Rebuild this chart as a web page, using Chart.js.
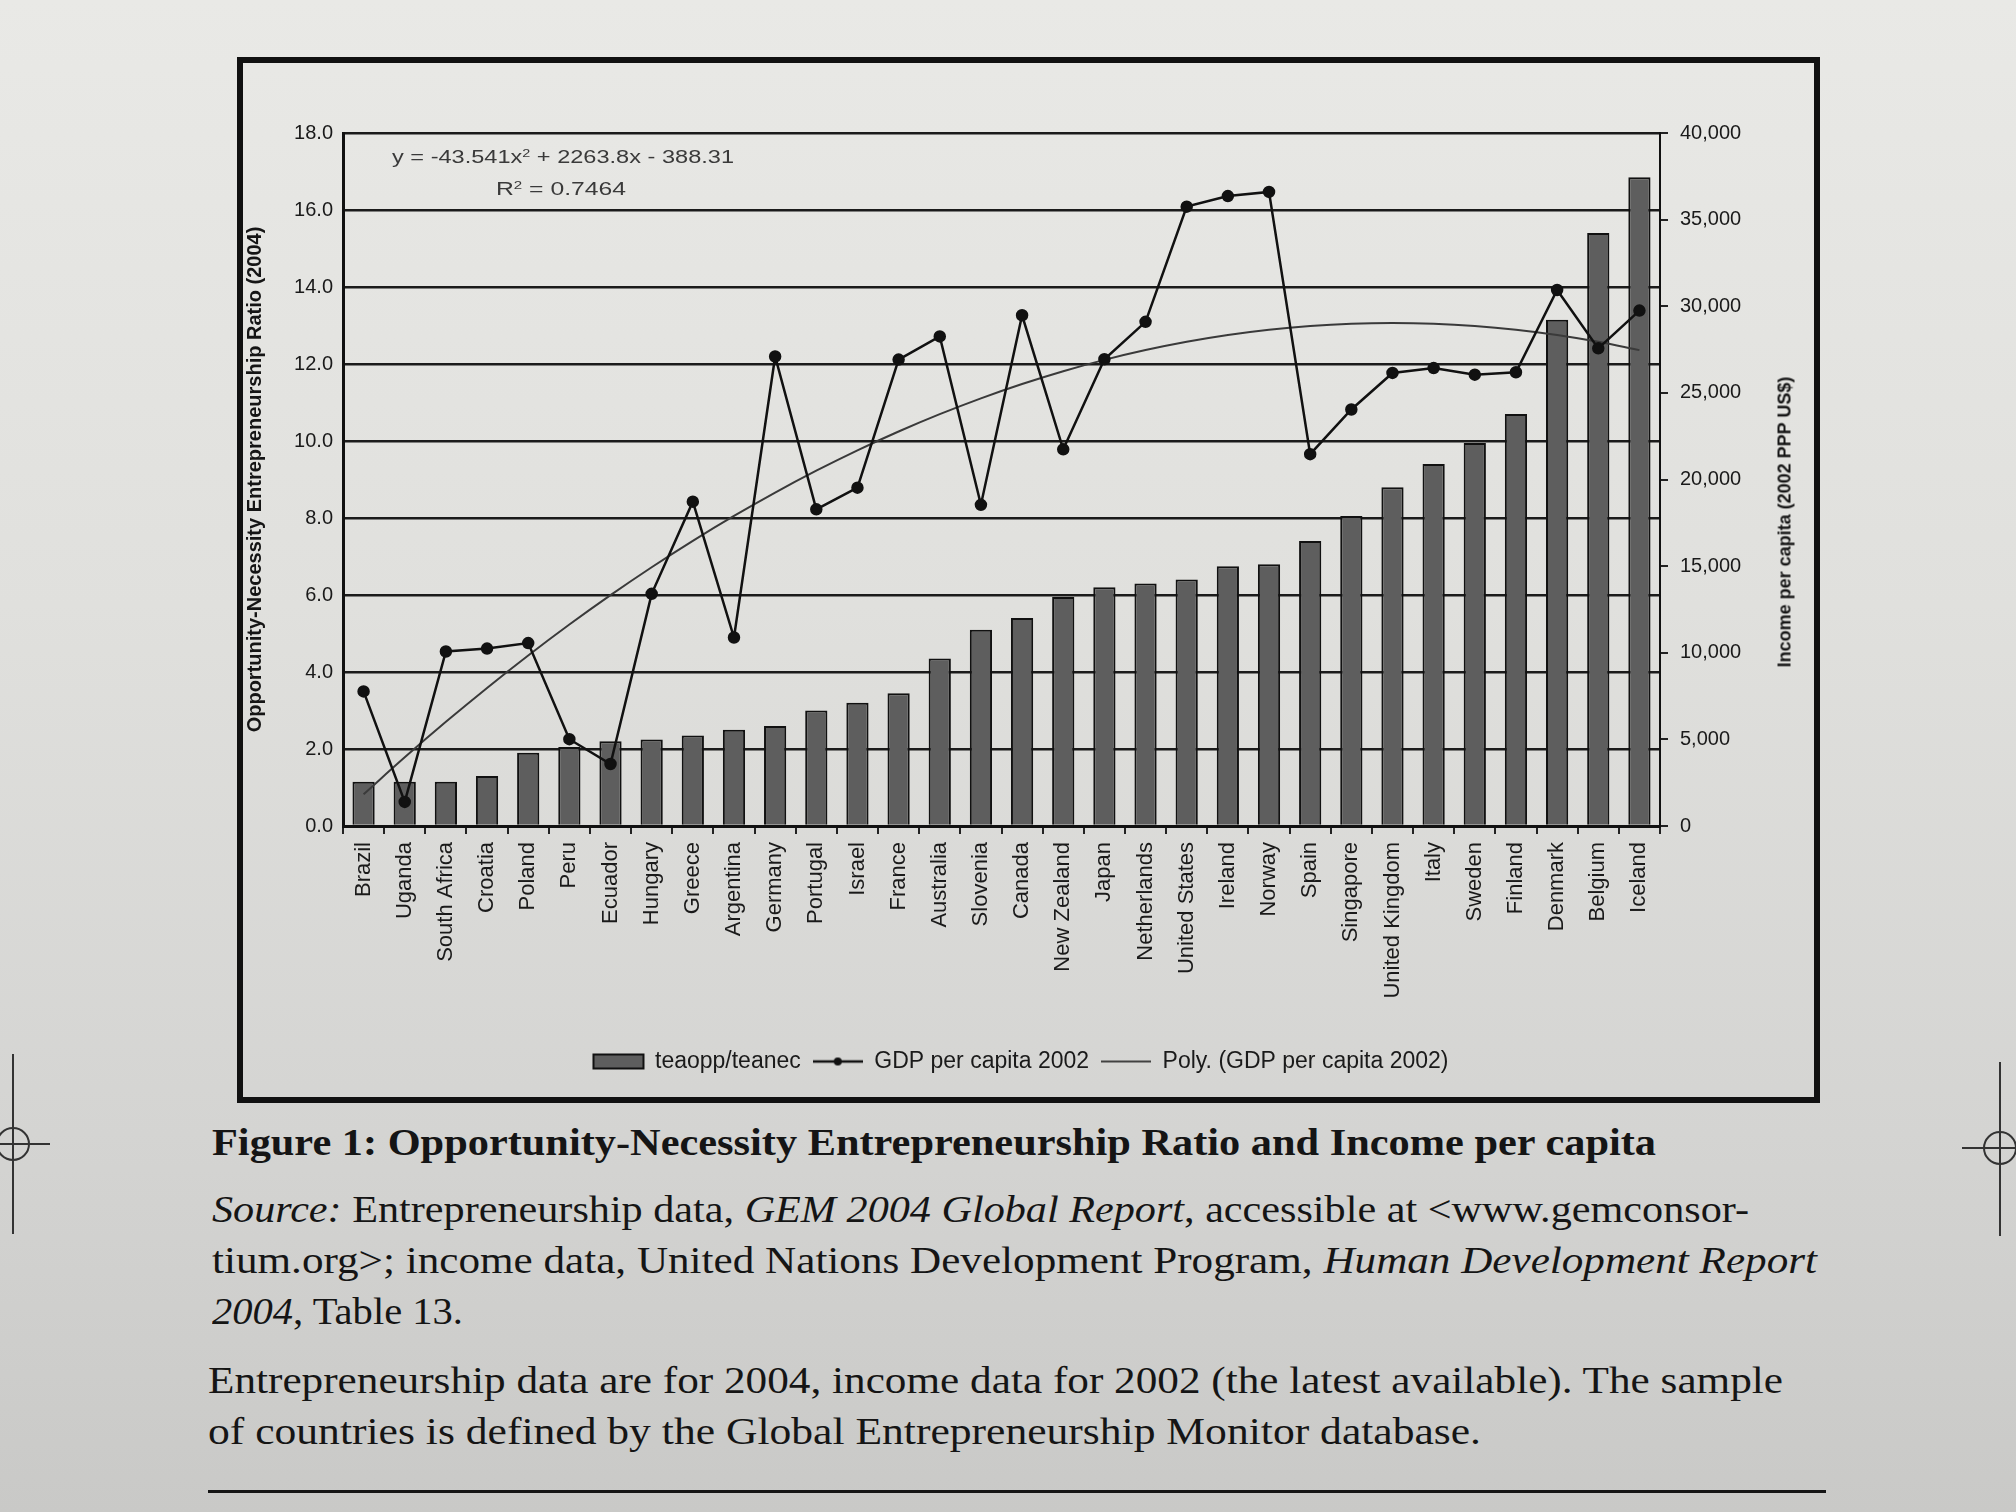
<!DOCTYPE html>
<html><head><meta charset="utf-8">
<script src="https://cdn.jsdelivr.net/npm/chart.js@4.4.1/dist/chart.umd.min.js"></script>
<style>
html,body{margin:0;padding:0;}
body{width:2016px;height:1512px;position:relative;overflow:hidden;
background:linear-gradient(180deg,#e9e9e6 0%,#e0e0dd 40%,#d4d4d2 75%,#c9c9c7 100%);
font-family:"Liberation Sans",Arial,sans-serif;}
#frame{position:absolute;left:237px;top:57px;width:1571px;height:1034px;border:6px solid #111;}
#wrap{position:absolute;left:243px;top:63px;width:1571px;height:1034px;}
.t{position:absolute;white-space:nowrap;transform-origin:0 50%;line-height:1;}
.cap{font-family:"Liberation Serif","DejaVu Serif",serif;color:#151515;font-size:37px;}
.eq{font-size:18px;color:#3a3a3a;}
#rtitle{position:absolute;left:1785px;top:522px;transform:translate(-50%,-50%) rotate(-90deg);white-space:nowrap;font-weight:bold;font-size:18px;color:#151515;}
#rule{position:absolute;left:208px;top:1490px;width:1618px;height:3px;background:#151515;}
svg{position:absolute;left:0;top:0;}
</style></head>
<body>
<svg width="2016" height="1512">
  <g stroke="#333" stroke-width="2" fill="none">
    <circle cx="13" cy="1144" r="16"/><line x1="13" y1="1054" x2="13" y2="1234"/><line x1="0" y1="1144" x2="50" y2="1144"/>
    <circle cx="2000" cy="1148" r="16"/><line x1="2000" y1="1062" x2="2000" y2="1236"/><line x1="1962" y1="1148" x2="2016" y2="1148"/>
  </g>
</svg>
<div id="frame"></div>
<div id="wrap"><canvas id="c" width="1571" height="1034"></canvas></div>
<div class="t eq" data-x="392" data-cy="157" data-w="342">y = -43.541x<sup style="font-size:11px;vertical-align:6px">2</sup> + 2263.8x - 388.31</div>
<div class="t eq" data-x="496" data-cy="189" data-w="130">R<sup style="font-size:11px;vertical-align:6px">2</sup> = 0.7464</div>
<div id="rtitle">Income per capita (2002 PPP US$)</div>
<div class="t cap" style="font-weight:bold" data-x="212" data-cy="1142" data-w="1444">Figure 1: Opportunity-Necessity Entrepreneurship Ratio and Income per capita</div>
<div class="t cap" data-x="212" data-cy="1209" data-w="1537"><i>Source:</i> Entrepreneurship data, <i>GEM 2004 Global Report</i>, accessible at &lt;www.gemconsor-</div>
<div class="t cap" data-x="212" data-cy="1260" data-w="1605">tium.org&gt;; income data, United Nations Development Program, <i>Human Development Report</i></div>
<div class="t cap" data-x="212" data-cy="1311" data-w="251"><i>2004</i>, Table 13.</div>
<div class="t cap" data-x="208" data-cy="1380" data-w="1575">Entrepreneurship data are for 2004, income data for 2002 (the latest available). The sample</div>
<div class="t cap" data-x="208" data-cy="1431" data-w="1273">of countries is defined by the Global Entrepreneurship Monitor database.</div>
<div id="rule"></div>
<script>
const countries = ["Brazil","Uganda","South Africa","Croatia","Poland","Peru","Ecuador","Hungary","Greece","Argentina","Germany","Portugal","Israel","France","Australia","Slovenia","Canada","New Zealand","Japan","Netherlands","United States","Ireland","Norway","Spain","Singapore","United Kingdom","Italy","Sweden","Finland","Denmark","Belgium","Iceland"];
const ratio = [1.15,1.15,1.15,1.3,1.9,2.05,2.2,2.25,2.35,2.5,2.6,3.0,3.2,3.45,4.35,5.1,5.4,5.95,6.2,6.3,6.4,6.75,6.8,7.4,8.05,8.8,9.4,9.95,10.7,13.15,15.4,16.85];
const gdp = [7770,1390,10070,10240,10560,5010,3580,13400,18720,10880,27100,18280,19530,26920,28260,18540,29480,21740,26940,29100,35750,36360,36600,21460,24040,26150,26430,26050,26190,30940,27570,29750];
const trend = [1832,3965,6011,7970,9842,11627,13325,14936,16459,17896,19245,20507,21683,22771,23772,24686,25513,26253,26906,27471,27950,28342,28646,28863,28994,29037,28993,28862,28644,28339,27945,27467];
const ratioTicks = {min:0, max:18, step:2};
const incomeTicks = {min:0, max:40000, step:5000};

document.querySelectorAll('.t').forEach(el=>{
  const r = el.getBoundingClientRect();
  el.style.left = el.dataset.x + 'px';
  el.style.top = (+el.dataset.cy - r.height/2) + 'px';
  el.style.transform = 'scaleX(' + (+el.dataset.w / r.width) + ')';
});

function legendIcon(withDot, lw){
  const c = document.createElement('canvas'); c.width = 50; c.height = 14;
  const g = c.getContext('2d'); g.strokeStyle = '#111'; g.lineWidth = lw;
  g.beginPath(); g.moveTo(0,7); g.lineTo(50,7); g.stroke();
  if (withDot){ g.fillStyle='#111'; g.beginPath(); g.arc(25,7,4,0,Math.PI*2); g.fill(); }
  return c;
}
const icons = [null, legendIcon(true,2.5), legendIcon(false,1.5)];

const font = {family:'"Liberation Sans", Arial, sans-serif'};
new Chart(document.getElementById('c'), {
  data: {
    labels: countries,
    datasets: [
      {type:'bar', label:'teaopp/teanec', data:ratio, yAxisID:'y', backgroundColor:'#5e5e5e', borderColor:'#111', borderWidth:2, barPercentage:0.54, categoryPercentage:1, order:3},
      {type:'line', label:'GDP per capita 2002', data:gdp, yAxisID:'y1', borderColor:'#111', borderWidth:2.5, pointRadius:5, pointBackgroundColor:'#111', pointBorderColor:'#111', tension:0, order:1},
      {type:'line', label:'Poly. (GDP per capita 2002)', data:trend, yAxisID:'y1', borderColor:'#3a3a3a', borderWidth:2, pointRadius:0, tension:0.4, order:2}
    ]
  },
  options: {
    responsive:false, animation:false, devicePixelRatio:1,
    layout:{padding:{top:70, right:15, left:0, bottom:14}},
    plugins:{
      tooltip:{enabled:false},
      legend:{position:'bottom',
        labels:{font:{...font,size:23}, color:'#1a1a1a', usePointStyle:true, pointStyleWidth:50, boxHeight:14, padding:12,
          sort:(a,b)=>a.datasetIndex-b.datasetIndex,
          generateLabels:(chart)=>{
            const items = Chart.defaults.plugins.legend.labels.generateLabels(chart);
            items.forEach(it=>{ it.pointStyle = it.datasetIndex===0 ? 'rect' : icons[it.datasetIndex]; });
            return items;
          }}}
    },
    scales:{
      x:{grid:{drawOnChartArea:false, drawTicks:true, tickLength:8, color:'#222', lineWidth:2},
         border:{color:'#111', width:3},
         ticks:{autoSkip:false, minRotation:90, maxRotation:90, padding:8, color:'#1a1a1a', font:{...font,size:22}},
         afterFit:(s)=>{ s.height = 212; }},
      y:{position:'left', min:ratioTicks.min, max:ratioTicks.max,
         ticks:{stepSize:ratioTicks.step, padding:10, color:'#1a1a1a', font:{...font,size:20}, callback:v=>v.toFixed(1)},
         grid:{color:'#1b1b1b', lineWidth:2.5, drawTicks:false},
         border:{color:'#111', width:3},
         title:{display:true, text:'Opportunity-Necessity Entrepreneurship Ratio (2004)', color:'#151515', font:{...font,size:20,weight:'bold'}, padding:0},
         afterFit:(s)=>{ s.width = 100; }},
      y1:{position:'right', min:incomeTicks.min, max:incomeTicks.max,
         ticks:{stepSize:incomeTicks.step, padding:12, crossAlign:'near', color:'#1a1a1a', font:{...font,size:20}, callback:v=>v.toLocaleString('en-US')},
         grid:{drawOnChartArea:false, tickLength:8, color:'#222', lineWidth:2},
         border:{color:'#111', width:2},
         afterFit:(s)=>{ s.width = 139; }}
    }
  }
});
</script>
</body></html>
